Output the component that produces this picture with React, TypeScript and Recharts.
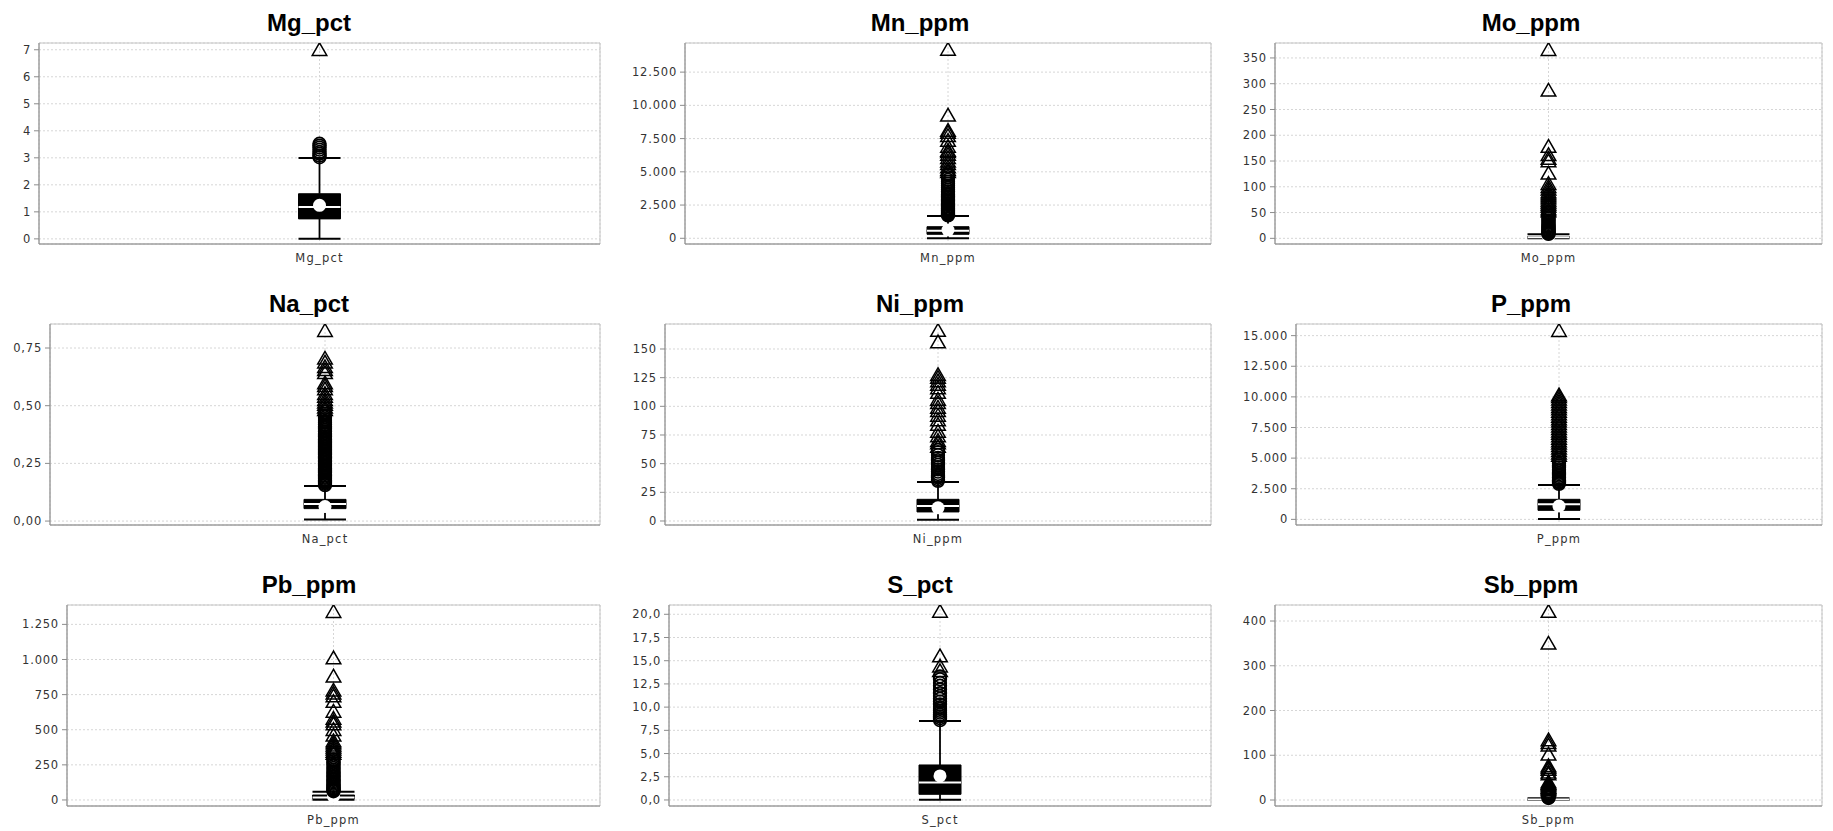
import React from 'react';
import { ScatterChart, Scatter, XAxis, YAxis, CartesianGrid, ReferenceArea, ReferenceLine } from 'recharts';

// ---------- data ----------
// box arrays: [lower whisker, Q1, median, Q3, upper whisker]
const mgBox = [0.0, 0.74, 1.18, 1.67, 2.99];
const mgMean = 1.24;
const mgOutliers = [3.02, 3.08, 3.15, 3.22, 3.3, 3.38, 3.45, 3.52];
const mgFarOut = [7.0];

const mnBox = [10, 300, 560, 870, 1680];
const mnMean = 620;
const mnOutliers = [1720, 1780, 1850, 1920, 2000, 2080, 2150, 2230, 2300, 2400, 2480, 2560, 2650, 2750, 2850, 2950, 3050, 3150, 3280, 3400, 3520, 3650, 3800, 3950, 4100, 4250, 4400, 4600, 4800];
const mnFarOut = [5000, 5150, 5350, 5600, 5800, 6050, 6300, 6500, 6600, 6900, 7350, 7700, 7950, 8100, 9250, 14200];

const moBox = [0.2, 1.0, 2.0, 3.5, 7.8];
const moMean = 3.2;
const moOutliers = [8.5, 9.5, 10.5, 12, 13.5, 15, 17, 19, 21, 23, 25, 27.5, 30, 32.5, 35, 38, 41, 44, 47, 50];
const moFarOut = [53, 57, 62, 66, 70, 74, 78, 82, 86, 90, 95, 100, 106, 126, 150, 155, 162, 178, 287, 366];

const naBox = [0.007, 0.054, 0.074, 0.094, 0.152];
const naMean = 0.063;
const naOutliers = [0.156, 0.161, 0.166, 0.171, 0.176, 0.182, 0.187, 0.192, 0.198, 0.204, 0.21, 0.216, 0.222, 0.228, 0.234, 0.24, 0.246, 0.252, 0.258, 0.264, 0.27, 0.276, 0.282, 0.288, 0.294, 0.3, 0.307, 0.313, 0.32, 0.326, 0.333, 0.34, 0.346, 0.353, 0.36, 0.367, 0.374, 0.381, 0.388, 0.395, 0.402, 0.41, 0.418, 0.426, 0.434, 0.442, 0.45, 0.458, 0.466, 0.474];
const naFarOut = [0.482, 0.493, 0.505, 0.515, 0.526, 0.54, 0.552, 0.572, 0.586, 0.598, 0.642, 0.655, 0.668, 0.688, 0.705, 0.825];

const niBox = [1, 7.9, 13.1, 18.9, 34.1];
const niMean = 11.5;
const niOutliers = [35, 36.5, 38, 39.5, 41, 43, 45, 47, 49, 51, 53, 55, 57.5, 60, 62];
const niFarOut = [65, 68, 70, 74, 78, 84, 88, 92, 96, 99, 103, 106, 112, 116, 119, 122, 125, 127.5, 156, 166];

const pBox = [20, 736, 1227, 1636, 2810];
const pMean = 1090;
const pOutliers = [2900, 3000, 3100, 3200, 3300, 3420, 3550, 3680, 3800, 3950, 4100, 4250, 4400, 4550, 4700, 4850, 5000];
const pFarOut = [5200, 5400, 5600, 5800, 6000, 6200, 6400, 6600, 6800, 7000, 7200, 7400, 7600, 7800, 8000, 8200, 8400, 8600, 8800, 9000, 9200, 9400, 9600, 9800, 10000, 10150, 15400];

const pbBox = [1, 9, 18, 35, 59];
const pbMean = 26;
const pbOutliers = [62, 68, 75, 82, 90, 98, 106, 115, 124, 133, 142, 152, 162, 172, 183, 194, 205, 216, 228, 240, 252, 264, 276, 288];
const pbFarOut = [330, 345, 360, 375, 390, 405, 420, 460, 500, 540, 560, 580, 630, 700, 740, 760, 780, 880, 1010, 1340];

const sBox = [0.02, 0.61, 1.87, 3.77, 8.51];
const sMean = 2.59;
const sOutliers = [8.6, 8.8, 9.0, 9.2, 9.4, 9.6, 9.8, 10.0, 10.3, 10.6, 10.9, 11.2, 11.5, 11.9, 12.3, 12.6, 13.0, 13.3];
const sFarOut = [13.9, 14.4, 15.5, 20.3];

const sbBox = [0.1, 0.5, 1.0, 2.0, 3.7];
const sbMean = 1.8;
const sbOutliers = [4.5, 5.5, 6.5, 8, 9.5, 11, 12.5, 14, 16, 18, 20];
const sbFarOut = [22, 25, 28, 31, 34, 37, 40, 58, 62, 68, 72, 76, 102, 122, 128, 134, 350, 421];

// ---------- axes (ticks, labels, ranges) ----------
const mgTicks = [0, 1, 2, 3, 4, 5, 6, 7];
const mgTickLabels = ['0', '1', '2', '3', '4', '5', '6', '7'];
const mgRange = [-0.19, 7.25];

const mnTicks = [0, 2500, 5000, 7500, 10000, 12500];
const mnTickLabels = ['0', '2.500', '5.000', '7.500', '10.000', '12.500'];
const mnRange = [-430, 14690];

const moTicks = [0, 50, 100, 150, 200, 250, 300, 350];
const moTickLabels = ['0', '50', '100', '150', '200', '250', '300', '350'];
const moRange = [-11, 379];

const naTicks = [0, 0.25, 0.5, 0.75];
const naTickLabels = ['0,00', '0,25', '0,50', '0,75'];
const naRange = [-0.017, 0.854];

const niTicks = [0, 25, 50, 75, 100, 125, 150];
const niTickLabels = ['0', '25', '50', '75', '100', '125', '150'];
const niRange = [-3.5, 171.8];

const pTicks = [0, 2500, 5000, 7500, 10000, 12500, 15000];
const pTickLabels = ['0', '2.500', '5.000', '7.500', '10.000', '12.500', '15.000'];
const pRange = [-460, 15950];

const pbTicks = [0, 250, 500, 750, 1000, 1250];
const pbTickLabels = ['0', '250', '500', '750', '1.000', '1.250'];
const pbRange = [-43, 1388];

const sTicks = [0, 2.5, 5, 7.5, 10, 12.5, 15, 17.5, 20];
const sTickLabels = ['0,0', '2,5', '5,0', '7,5', '10,0', '12,5', '15,0', '17,5', '20,0'];
const sRange = [-0.65, 21.0];

const sbTicks = [0, 100, 200, 300, 400];
const sbTickLabels = ['0', '100', '200', '300', '400'];
const sbRange = [-13.4, 435.8];

// ---------- layout ----------
const COL_W = 611;
const ROW_TOPS = [0, 281, 562];
const CHART_H = 277;
const PLOT_TOP = 43;
const PLOT_H = 201;
const RIGHT_MARGIN = 11;
const X_AXIS_H = 33;
const BOX_PX = 42;
const TITLE_CX = 309;

const panels = [
  { name: 'Mg_pct', box: mgBox, mean: mgMean, out: mgOutliers, far: mgFarOut, ticks: mgTicks, labels: mgTickLabels, range: mgRange, axisW: 39 },
  { name: 'Mn_ppm', box: mnBox, mean: mnMean, out: mnOutliers, far: mnFarOut, ticks: mnTicks, labels: mnTickLabels, range: mnRange, axisW: 74 },
  { name: 'Mo_ppm', box: moBox, mean: moMean, out: moOutliers, far: moFarOut, ticks: moTicks, labels: moTickLabels, range: moRange, axisW: 53 },
  { name: 'Na_pct', box: naBox, mean: naMean, out: naOutliers, far: naFarOut, ticks: naTicks, labels: naTickLabels, range: naRange, axisW: 50 },
  { name: 'Ni_ppm', box: niBox, mean: niMean, out: niOutliers, far: niFarOut, ticks: niTicks, labels: niTickLabels, range: niRange, axisW: 54 },
  { name: 'P_ppm', box: pBox, mean: pMean, out: pOutliers, far: pFarOut, ticks: pTicks, labels: pTickLabels, range: pRange, axisW: 74 },
  { name: 'Pb_ppm', box: pbBox, mean: pbMean, out: pbOutliers, far: pbFarOut, ticks: pbTicks, labels: pbTickLabels, range: pbRange, axisW: 67 },
  { name: 'S_pct', box: sBox, mean: sMean, out: sOutliers, far: sFarOut, ticks: sTicks, labels: sTickLabels, range: sRange, axisW: 58 },
  { name: 'Sb_ppm', box: sbBox, mean: sbMean, out: sbOutliers, far: sbFarOut, ticks: sbTicks, labels: sbTickLabels, range: sbRange, axisW: 53 },
];

const yTickFont = { fontFamily: 'DejaVu Sans', fontSize: 11.5, fill: '#333', letterSpacing: 0.8 };
const xTickFont = { fontFamily: 'DejaVu Sans', fontSize: 11.5, fill: '#333', letterSpacing: 1.2 };

const OutlierCircle = (props: any) => {
  const { cx, cy } = props;
  if (cx == null || cy == null) return null;
  return <circle cx={cx} cy={cy} r={6.3} fill="none" stroke="#000" strokeWidth={1.7} />;
};

const FarOutTriangle = (props: any) => {
  const { cx, cy } = props;
  if (cx == null || cy == null) return null;
  const pts = `${cx},${cy - 7} ${cx - 7.3},${cy + 5.7} ${cx + 7.3},${cy + 5.7}`;
  return <polygon points={pts} fill="none" stroke="#000" strokeWidth={1.5} strokeLinejoin="miter" />;
};

const MeanDot = (props: any) => {
  const { cx, cy } = props;
  if (cx == null || cy == null) return null;
  return <circle cx={cx} cy={cy} r={6.5} fill="#fff" stroke="none" />;
};

function BoxPanel({ p, idx }: { p: any; idx: number }) {
  const col = idx % 3;
  const row = Math.floor(idx / 3);
  const plotW = COL_W - RIGHT_MARGIN - p.axisW;
  const hw = BOX_PX / 2 / (plotW / 2);
  const [lo, q1, med, q3, hi] = p.box;
  const outData = p.out.map((v: number) => ({ x: 1, y: v }));
  const farData = p.far.map((v: number) => ({ x: 1, y: v }));
  const meanData = [{ x: 1, y: p.mean }];
  return (
    <div style={{ position: 'absolute', left: col * COL_W, top: ROW_TOPS[row] }}>
      <ScatterChart width={COL_W} height={CHART_H} margin={{ top: PLOT_TOP, right: RIGHT_MARGIN, bottom: CHART_H - PLOT_TOP - PLOT_H - X_AXIS_H, left: 0 }}>
        <CartesianGrid stroke="#d6d6d6" strokeDasharray="2 2" />
        <XAxis
          type="number"
          dataKey="x"
          domain={[0, 2]}
          ticks={[1]}
          allowDataOverflow
          tickFormatter={() => p.name}
          tickLine={false}
          axisLine={{ stroke: '#8c8c8c' }}
          height={X_AXIS_H}
          tickMargin={4}
          tick={xTickFont}
        />
        <YAxis
          type="number"
          dataKey="y"
          domain={p.range}
          ticks={p.ticks}
          allowDataOverflow
          interval={0}
          width={p.axisW}
          tickSize={5}
          tickMargin={3}
          tickLine={{ stroke: '#8c8c8c' }}
          axisLine={{ stroke: '#8c8c8c' }}
          tick={yTickFont}
          tickFormatter={(v: number) => p.labels[p.ticks.indexOf(v)]}
        />
        <ReferenceArea x1={0} x2={2} y1={p.range[0]} y2={p.range[1]} fill="none" stroke="#c4c4c4" strokeWidth={1} ifOverflow="visible" />
        <ReferenceLine segment={[{ x: 1, y: lo }, { x: 1, y: q1 }]} stroke="#000" strokeWidth={1.8} ifOverflow="visible" />
        <ReferenceLine segment={[{ x: 1, y: q3 }, { x: 1, y: hi }]} stroke="#000" strokeWidth={1.8} ifOverflow="visible" />
        <ReferenceLine segment={[{ x: 1 - hw, y: lo }, { x: 1 + hw, y: lo }]} stroke="#000" strokeWidth={2} ifOverflow="visible" />
        <ReferenceLine segment={[{ x: 1 - hw, y: hi }, { x: 1 + hw, y: hi }]} stroke="#000" strokeWidth={2} ifOverflow="visible" />
        <ReferenceArea x1={1 - hw} x2={1 + hw} y1={q1} y2={q3} fill="#000" fillOpacity={1} stroke="#000" strokeWidth={1} ifOverflow="visible" />
        <ReferenceLine segment={[{ x: 1 - hw, y: med }, { x: 1 + hw, y: med }]} stroke="#fff" strokeWidth={2} ifOverflow="visible" />
        <Scatter data={meanData} shape={MeanDot} isAnimationActive={false} />
        <Scatter data={outData} shape={OutlierCircle} isAnimationActive={false} />
        <Scatter data={farData} shape={FarOutTriangle} isAnimationActive={false} />
      </ScatterChart>
    </div>
  );
}

export default function App() {
  return (
    <div style={{ position: 'absolute', left: 0, top: 0, width: 1833, height: 831, overflow: 'hidden', background: '#fff' }}>
      {panels.map((p, i) => (
        <BoxPanel key={p.name} p={p} idx={i} />
      ))}
      <svg width={1833} height={831} style={{ position: 'absolute', left: 0, top: 0, pointerEvents: 'none' }}>
        {panels.map((p, i) => {
          const col = i % 3;
          const row = Math.floor(i / 3);
          const cx = col * COL_W + TITLE_CX;
          const by = ROW_TOPS[row] + PLOT_TOP - 12.5;
          return (
            <text
              key={p.name}
              x={cx}
              y={by}
              textAnchor="middle"
              fontFamily="Liberation Sans, Arial, sans-serif"
              fontWeight="bold"
              fontSize={24}
              fill="#000"
            >
              {p.name}
            </text>
          );
        })}
      </svg>
    </div>
  );
}
